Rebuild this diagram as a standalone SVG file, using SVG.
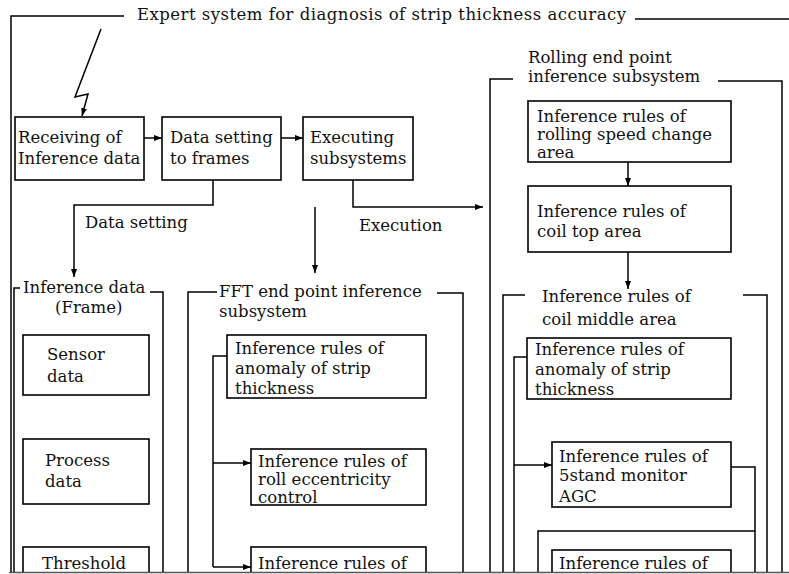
<svg xmlns="http://www.w3.org/2000/svg" width="789" height="574" viewBox="0 0 789 574">
<style>
  .bx { fill: #fff; stroke: #000; stroke-width: 1.6; }
  .ln { fill: none; stroke: #000; stroke-width: 1.5; }
  .ar { fill: none; stroke: #000; stroke-width: 1.5; marker-end: url(#arr); }
  text { font-family: "DejaVu Serif", "Liberation Serif", serif; font-size: 16.5px; fill: #111; }
</style>
<defs>
  <marker id="arr" markerUnits="userSpaceOnUse" markerWidth="9" markerHeight="7" refX="8" refY="3.5" orient="auto">
    <path d="M0,0.5 L8,3.5 L0,6.5 z" fill="#000"/>
  </marker>
</defs>
<rect width="789" height="574" fill="#fff"/>

<g id="frame">
  <path class="ln" d="M11,572 V16 H124"/>
  <path class="ln" d="M635,19 H789"/>
  <text x="137" y="20" textLength="489" lengthAdjust="spacing">Expert system for diagnosis of strip thickness accuracy</text>
</g>

<g id="n-receive">
  <rect class="bx" x="15" y="117" width="129" height="63"/>
  <text x="18" y="143">Receiving of</text>
  <text x="18" y="164">Inference data</text>
</g>
<g id="n-datasetting">
  <rect class="bx" x="162" y="117" width="119" height="63"/>
  <text x="170" y="143">Data setting</text>
  <text x="170" y="164">to frames</text>
</g>
<g id="n-executing">
  <rect class="bx" x="303" y="117" width="110" height="63"/>
  <text x="310" y="143">Executing</text>
  <text x="310" y="164">subsystems</text>
</g>

<g id="c-infdata">
  <path class="ln" d="M20,288 H14 V572"/>
  <path class="ln" d="M150,292 H163 V572"/>
  <text x="23" y="293">Inference data</text>
  <text x="55" y="313">(Frame)</text>
</g>
<g id="n-sensor">
  <rect class="bx" x="23" y="335" width="126" height="60"/>
  <text x="47" y="360">Sensor</text>
  <text x="47" y="382">data</text>
</g>
<g id="n-process">
  <rect class="bx" x="23" y="439" width="126" height="65"/>
  <text x="45" y="466">Process</text>
  <text x="45" y="487">data</text>
</g>
<g id="n-threshold">
  <rect class="bx" x="23" y="547" width="126" height="40"/>
  <text x="42" y="569">Threshold</text>
</g>

<g id="c-fft">
  <path class="ln" d="M217,292 H188 V572"/>
  <path class="ln" d="M437,293 H463 V572"/>
  <text x="219" y="297">FFT end point inference</text>
  <text x="219" y="317">subsystem</text>
</g>
<g id="n-fft-anomaly">
  <rect class="bx" x="227" y="335" width="199" height="63"/>
  <text x="235" y="354">Inference rules of</text>
  <text x="235" y="374">anomaly of strip</text>
  <text x="235" y="394">thickness</text>
</g>
<g id="n-fft-roll">
  <rect class="bx" x="251" y="449" width="175" height="56"/>
  <text x="258" y="467">Inference rules of</text>
  <text x="258" y="485">roll eccentricity</text>
  <text x="258" y="503">control</text>
</g>
<g id="n-fft-third">
  <rect class="bx" x="251" y="547" width="175" height="40"/>
  <text x="258" y="569">Inference rules of</text>
</g>

<g id="c-rolling">
  <path class="ln" d="M513,79 H490 V572"/>
  <path class="ln" d="M718,81 H782 V572"/>
  <text x="528" y="63">Rolling end point</text>
  <text x="528" y="82">inference subsystem</text>
</g>
<g id="n-speed">
  <rect class="bx" x="528" y="101" width="203" height="61"/>
  <text x="537" y="122">Inference rules of</text>
  <text x="537" y="140">rolling speed change</text>
  <text x="537" y="158">area</text>
</g>
<g id="n-top">
  <rect class="bx" x="528" y="186" width="203" height="66"/>
  <text x="537" y="217">Inference rules of</text>
  <text x="537" y="237">coil top area</text>
</g>
<g id="c-middle">
  <path class="ln" d="M525,295 H503 V572"/>
  <path class="ln" d="M743,295 H767 V572"/>
  <text x="542" y="302">Inference rules of</text>
  <text x="542" y="325">coil middle area</text>
</g>
<g id="n-mid-anomaly">
  <rect class="bx" x="527" y="338" width="204" height="61"/>
  <text x="535" y="355">Inference rules of</text>
  <text x="535" y="375">anomaly of strip</text>
  <text x="535" y="395">thickness</text>
</g>
<g id="n-agc">
  <rect class="bx" x="552" y="442" width="179" height="65"/>
  <text x="559" y="462">Inference rules of</text>
  <text x="559" y="481">5stand monitor</text>
  <text x="559" y="502">AGC</text>
</g>
<g id="n-mid-third">
  <rect class="bx" x="552" y="550" width="179" height="40"/>
  <text x="559" y="569">Inference rules of</text>
</g>

<g id="connectors">
  <path class="ar" d="M101,29 L75,97 L88,94 L82,116"/>
  <path class="ar" d="M144,138 H162"/>
  <path class="ar" d="M281,138 H303"/>
  <path class="ar" d="M213,180 V205 H74 V277"/>
  <path class="ar" d="M353,180 V207 H483"/>
  <path class="ar" d="M315,207 V273"/>
  <path class="ln" d="M227,356 H213 V567"/>
  <path class="ar" d="M213,463 H251"/>
  <path class="ar" d="M213,567 H251"/>
  <path class="ar" d="M628,162 V186"/>
  <path class="ar" d="M628,252 V289"/>
  <path class="ln" d="M527,357 H514 V572"/>
  <path class="ar" d="M514,465 H552"/>
  <path class="ln" d="M731,467 H755 V572"/>
  <path class="ln" d="M538,572 V531 H755"/>
  <text x="85" y="228">Data setting</text>
  <text x="359" y="231">Execution</text>
</g>

<g id="bottom-edge">
  <rect x="0" y="572" width="789" height="2" fill="#fff"/>
  <path d="M9,572.5 H789" stroke="#555" stroke-width="1.5"/>
</g>
</svg>
